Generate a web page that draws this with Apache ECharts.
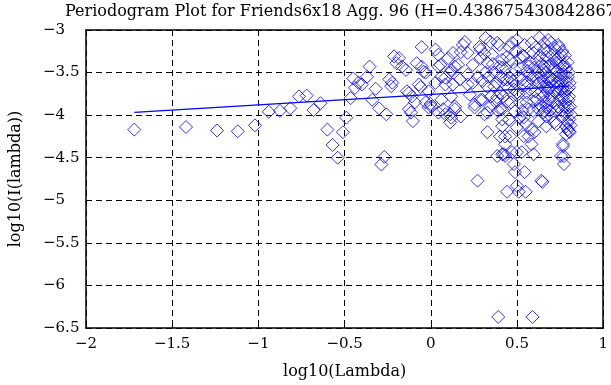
<!DOCTYPE html>
<html>
<head>
<meta charset="utf-8">
<script src="https://cdn.jsdelivr.net/npm/echarts@6/dist/echarts.min.js"></script>
<style>
html,body{margin:0;padding:0;background:#fff;}
#chart{width:611px;height:385px;}
</style>
</head>
<body>
<div id="chart"></div>
<script>
// ---- data ----
const chartTitle = "Periodogram Plot for Friends6x18 Agg. 96 (H=0.438675430842867)";
const xAxisName = "log10(Lambda)";
const yAxisName = "log10(I(lambda))";
const xTicks = [-2, -1.5, -1, -0.5, 0, 0.5, 1];
const yTicks = [-6.5, -6, -5.5, -5, -4.5, -4, -3.5, -3];

// [log10(lambda), log10(I(lambda))]
const lowFreqPoints = [
  [-1.72,-4.17],[-1.42,-4.14],[-1.24,-4.18],[-1.12,-4.19],[-1.02,-4.12],[-0.94,-3.96],
  [-0.875,-3.95],[-0.815,-3.92],[-0.765,-3.78],[-0.72,-3.77],[-0.68,-3.94],[-0.64,-3.86],
  [-0.60,-4.17],[-0.57,-4.35],[-0.54,-4.50],[-0.51,-4.20]
];
const midFreqPoints = [
  [-0.49,-4.03],[-0.465,-3.80],[-0.45,-3.57],[-0.44,-3.68],[-0.42,-3.62],[-0.40,-3.64],
  [-0.37,-3.55],[-0.355,-3.43],[-0.34,-3.82],[-0.32,-3.69],[-0.30,-3.92],[-0.287,-4.58],
  [-0.27,-4.49],[-0.258,-3.99],[-0.241,-3.58],[-0.23,-3.66],[-0.224,-3.62],[-0.213,-3.31],
  [-0.20,-3.39],[-0.184,-3.33],[-0.167,-3.43],[-0.144,-3.47],[-0.139,-3.72],[-0.127,-3.74],
  [-0.127,-3.93],[-0.116,-3.97],[-0.11,-3.78],[-0.104,-4.07],[-0.093,-3.85],[-0.082,-3.39],
  [-0.07,-3.64],[-0.059,-3.67],[-0.053,-3.20],[-0.053,-3.43],[-0.042,-3.49],[-0.03,-3.85],
  [-0.03,-3.50],[-0.013,-3.72],[-0.013,-3.91],[-0.002,-3.87],[0.004,-3.90],[0.027,-3.23],
  [0.027,-3.62],[0.044,-3.29],[0.044,-3.43],[0.044,-3.97],[0.055,-3.41],[0.061,-3.55],
  [0.061,-3.82],[0.072,-3.93],[0.084,-3.56],[0.084,-3.64],[0.084,-3.99],[0.101,-3.33]
];
const highFreqPoints = [
  [0.112,-3.50],[0.112,-3.99],[0.112,-4.085],[0.118,-3.47],[0.118,-3.78],[0.118,-4.03],
  [0.129,-3.27],[0.129,-3.64],[0.14,-3.43],[0.14,-3.90],[0.14,-3.93],[0.158,-3.41],
  [0.169,-3.58],[0.174,-3.26],[0.174,-4.015],[0.186,-3.175],[0.197,-3.14],[0.214,-3.27],
  [0.214,-3.525],[0.214,-3.64],[0.226,-3.76],[0.243,-3.41],[0.243,-3.62],[0.254,-3.875],
  [0.254,-3.91],[0.271,-3.55],[0.271,-4.77],[0.282,-3.20],[0.288,-3.23],[0.288,-3.33],
  [0.288,-3.82],[0.299,-3.82],[0.311,-3.99],[0.317,-3.093],[0.317,-3.50],[0.328,-3.385],
  [0.328,-3.665],[0.328,-3.97],[0.328,-4.20],[0.345,-3.14],[0.345,-3.90],[0.356,-3.29],
  [0.368,-3.50],[0.368,-3.665],[0.374,-3.84],[0.385,-3.15],[0.385,-3.79],[0.385,-4.48],
  [0.391,-6.37],[0.397,-3.175],[0.397,-3.43],[0.402,-3.735],[0.402,-3.93],[0.402,-4.25],
  [0.414,-3.35],[0.414,-3.443],[0.414,-3.93],[0.414,-4.05],[0.414,-4.13],[0.414,-4.46],
  [0.425,-3.58],[0.425,-4.458],[0.431,-4.25],[0.431,-4.342],[0.431,-4.48],[0.442,-3.315],
  [0.442,-3.583],[0.442,-3.84],[0.442,-4.90],[0.454,-3.20],[0.454,-4.05],[0.459,-3.56],
  [0.459,-4.248],[0.471,-3.15],[0.471,-4.435],[0.482,-3.70],[0.482,-4.575],[0.488,-3.467],
  [0.488,-3.957],[0.488,-4.67],[0.499,-3.117],[0.499,-3.735],[0.499,-4.143],[0.499,-4.435],
  [0.499,-4.83],[0.51,-4.90],[0.516,-3.327],[0.516,-3.852],[0.516,-4.03],[0.527,-3.583],
  [0.527,-4.435],[0.539,-3.315],[0.539,-4.027],[0.539,-4.248],[0.544,-3.175],[0.544,-4.67],
  [0.55,-4.90],[0.556,-3.735],[0.556,-3.85],[0.567,-3.43],[0.567,-3.933],[0.567,-4.25],
  [0.573,-3.525],[0.584,-3.15],[0.584,-4.167],[0.584,-4.342],[0.59,-6.37],[0.596,-3.27],
  [0.596,-3.84],[0.596,-4.46],[0.601,-4.20],[0.613,-3.35],[0.613,-3.56],[0.624,-3.93],
  [0.624,-4.073],[0.63,-3.09],[0.641,-3.723],[0.641,-4.77],[0.647,-4.785],[0.653,-3.467],
  [0.653,-3.665],[0.653,-3.968],[0.658,-3.152],[0.658,-3.23],[0.658,-3.432],[0.67,-3.315],
  [0.67,-3.665],[0.67,-3.852],[0.67,-3.898],[0.67,-4.015],[0.67,-4.132],[0.681,-3.117],
  [0.681,-3.43],[0.681,-3.583],[0.687,-3.548],[0.687,-3.82],[0.698,-3.15],[0.698,-3.782],
  [0.698,-4.015],[0.71,-3.58],[0.715,-4.085],[0.727,-3.35],[0.727,-3.385],[0.727,-4.108],
  [0.738,-3.175],[0.738,-3.665],[0.738,-3.735],[0.738,-3.898],[0.744,-3.20],[0.755,-3.292],
  [0.755,-3.525],[0.755,-4.48],[0.767,-3.43],[0.767,-3.793],[0.767,-4.015],[0.767,-4.34],
  [0.767,-4.365],[0.772,-3.408],[0.772,-3.90],[0.772,-4.482],[0.772,-4.575],[0.784,-3.61],
  [0.784,-4.132],[0.784,-4.225],[0.795,-3.55],[0.795,-3.91],[0.795,-4.085],[0.795,-4.167],
  [0.801,-3.677],[0.801,-3.78],[0.801,-4.19],[0.806,-4.20],[0.812,-3.992]
];
// overlapping diamonds inside the dense band at the high-frequency end
const denseBandPoints = [
  [0.30,-3.60],[0.31,-3.28],[0.335,-3.55],[0.35,-3.78],[0.36,-3.40],[0.38,-3.62],
  [0.39,-3.95],[0.405,-3.55],[0.42,-3.78],[0.435,-3.45],[0.448,-3.68],[0.46,-3.35],
  [0.465,-3.85],[0.475,-3.60],[0.49,-3.25],[0.505,-3.55],[0.51,-3.75],[0.52,-3.45],
  [0.53,-3.95],[0.535,-3.30],[0.545,-3.65],[0.55,-4.10],
  [0.56,-3.62],[0.562,-3.48],[0.575,-3.70],[0.578,-3.38],[0.59,-3.55],[0.593,-3.95],
  [0.60,-3.44],[0.605,-3.72],[0.61,-3.20],[0.615,-3.82],[0.62,-3.50],[0.625,-3.62],
  [0.632,-3.30],[0.635,-3.88],[0.64,-3.55],[0.645,-3.40],[0.65,-3.78],[0.655,-3.60],
  [0.66,-3.95],[0.665,-3.50],[0.675,-3.72],[0.678,-3.25],[0.685,-3.68],[0.69,-3.95],
  [0.693,-3.40],[0.70,-3.60],[0.705,-3.30],[0.708,-3.85],[0.712,-3.45],[0.718,-3.72],
  [0.72,-3.22],[0.725,-3.55],[0.73,-3.95],[0.733,-3.48],[0.735,-3.62],[0.74,-3.32],
  [0.745,-3.82],[0.748,-3.58],[0.75,-3.40],[0.752,-3.70],[0.758,-3.95],[0.76,-3.60],
  [0.762,-3.25],[0.765,-3.68],[0.77,-3.52],[0.775,-3.75],[0.778,-3.30],[0.78,-3.85],
  [0.785,-3.45],[0.788,-3.98],[0.79,-3.70],[0.793,-3.38],[0.798,-3.82],[0.80,-3.50],
  [0.803,-4.05],[0.805,-3.62],[0.808,-3.90],[0.81,-4.12]
];
// least-squares fit line endpoints
const fitLine = [[-1.72,-3.968],[0.80,-3.659]];

// ---- chart ----
const FONT = "DejaVu Serif";
const BLUE = "#0000ff";
const fmt = v => String(v).replace("-", "\u2212");

const chart = echarts.init(document.getElementById("chart"), null, {renderer: "canvas"});
const boxLine = {show: true, onZero: false, lineStyle: {color: "#000", width: 1.5}};
const tickIn = {show: true, inside: true, length: 6, lineStyle: {color: "#000", width: 1}};
const dashed = {show: true, lineStyle: {color: "#000", width: 1, type: [6, 4]}};
const xMin = xTicks[0], xMax = xTicks[xTicks.length - 1];
const yMin = yTicks[0], yMax = yTicks[yTicks.length - 1];

chart.setOption({
  animation: false,
  backgroundColor: "#fff",
  title: {
    text: chartTitle, left: 60, top: -1,
    textStyle: {fontFamily: FONT, fontSize: 16, fontWeight: "normal", color: "#000"}
  },
  grid: {left: 81, right: 3, top: 30, bottom: 55},
  xAxis: [
    {
      type: "value", min: xMin, max: xMax, interval: 0.5, position: "bottom",
      axisLine: boxLine, axisTick: tickIn, splitLine: dashed,
      axisLabel: {color: "#000", fontFamily: FONT, fontSize: 15, margin: 9, formatter: fmt},
      name: xAxisName, nameLocation: "middle", nameGap: 36,
      nameTextStyle: {color: "#000", fontFamily: FONT, fontSize: 16}
    },
    {
      type: "value", min: xMin, max: xMax, interval: 0.5, position: "top",
      axisLine: boxLine, axisTick: tickIn, splitLine: {show: false}, axisLabel: {show: false}
    }
  ],
  yAxis: [
    {
      type: "value", min: yMin, max: yMax, interval: 0.5, position: "left",
      axisLine: boxLine, axisTick: tickIn, splitLine: dashed,
      axisLabel: {color: "#000", fontFamily: FONT, fontSize: 15, margin: 43, align: "left", formatter: fmt},
      name: yAxisName, nameLocation: "middle", nameGap: 62,
      nameTextStyle: {color: "#000", fontFamily: FONT, fontSize: 16}
    },
    {
      type: "value", min: yMin, max: yMax, interval: 0.5, position: "right",
      axisLine: boxLine, axisTick: tickIn, splitLine: {show: false}, axisLabel: {show: false}
    }
  ],
  series: [
    {
      type: "scatter", xAxisIndex: 0, yAxisIndex: 0,
      data: lowFreqPoints.concat(midFreqPoints, highFreqPoints, denseBandPoints),
      symbol: "diamond", symbolSize: 13,
      itemStyle: {color: "rgba(0,0,255,0)", borderColor: BLUE, borderWidth: 1},
      silent: true
    },
    {
      type: "line", xAxisIndex: 0, yAxisIndex: 0,
      data: fitLine, symbol: "none",
      lineStyle: {color: BLUE, width: 1.3}, silent: true
    }
  ]
});
</script>
</body>
</html>
